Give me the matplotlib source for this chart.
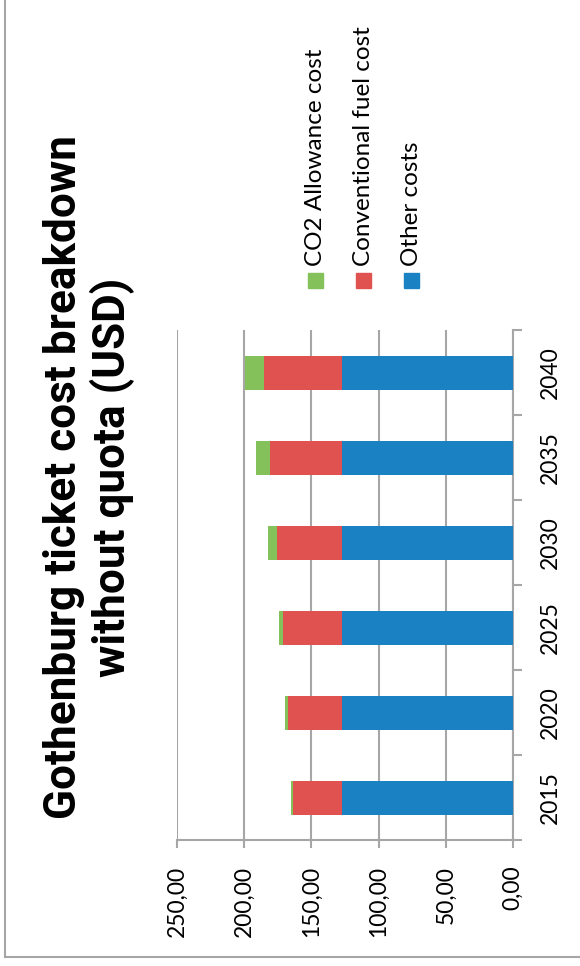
import numpy as np
import matplotlib
matplotlib.use('Agg')
import matplotlib.pyplot as plt
from matplotlib.lines import Line2D
from matplotlib.patches import Rectangle

# data (USD per ticket)
years = ['2015', '2020', '2025', '2030', '2035', '2040']
other_costs = [127.4, 127.4, 127.4, 127.4, 127.4, 127.4]
fuel_cost = [36.6, 40.2, 44.0, 48.0, 53.5, 58.2]
co2_cost = [1.0, 2.0, 2.7, 6.7, 10.4, 14.1]
series_names = ['CO2 Allowance cost', 'Conventional fuel cost', 'Other costs']
value_ticks = [0, 50, 100, 150, 200, 250]

green = '#84C15B'
red = '#E0524F'
blue = '#1A82C2'
grey = '#A6A6A6'
W, H = 580, 966

plt.rcParams['font.family'] = ['Lato', 'DejaVu Sans']

fig = plt.figure(figsize=(W / 100, H / 100), dpi=100)
ax = fig.add_axes([177 / W, 1 - 840 / H, (513 - 177) / W, (840 - 330) / H])

y = np.arange(len(years))
other = np.array(other_costs)
fuel = np.array(fuel_cost)
co2 = np.array(co2_cost)
ax.barh(y, other, height=0.4, color=blue, zorder=3)
ax.barh(y, fuel, left=other, height=0.4, color=red, zorder=3)
ax.barh(y, co2, left=other + fuel, height=0.4, color=green, zorder=3)

ax.set_xlim(250, 0)
ax.set_ylim(-0.5, len(years) - 0.5)
ax.set_xticks(value_ticks)
ax.set_xticklabels([f'{v:.2f}'.replace('.', ',') for v in value_ticks],
                   rotation=90, fontsize=16.5)
ax.grid(axis='x', color=grey, lw=1.5, zorder=0)

ax.yaxis.tick_right()
ax.set_yticks(y)
ax.set_yticklabels(years, rotation=90, fontsize=16.5, va='center')
ax.set_yticks(np.arange(-0.5, len(years), 1.0), minor=True)
ax.tick_params(axis='y', which='major', length=0, pad=19)
ax.tick_params(axis='y', which='minor', length=6.5, width=1.5, color=grey)
ax.tick_params(axis='x', length=6, width=1.5, color=grey, pad=12.5)

for s in ['left', 'top']:
    ax.spines[s].set_visible(False)
for s in ['right', 'bottom']:
    ax.spines[s].set_color(grey)
    ax.spines[s].set_linewidth(1.5)

# title (chart is rotated a quarter turn); size fitted to the reference length
title = fig.text(89 / W, 1 - 477 / H, 'Gothenburg ticket cost breakdown\nwithout quota (USD)',
                 rotation=90, ha='center', va='center', ma='center', fontsize=30,
                 fontweight='bold', linespacing=1.15, family=['Roboto', 'DejaVu Sans'])
r = fig.canvas.get_renderer()
h = title.get_window_extent(r).height
title.set_fontsize(30 * 683 / h)

# legend, rotated
leg_x = [315.5, 363.5, 411.5]
for name, col, lx in zip(series_names, [green, red, blue], leg_x):
    fig.add_artist(Rectangle(((lx - 7.5) / W, 1 - 288 / H), 15 / W, 15 / H,
                             transform=fig.transFigure, color=col))
    fig.text(lx / W, 1 - 266 / H, name, rotation=90, ha='center', va='bottom',
             fontsize=17.5)

# outer frame (left and bottom edges visible)
fig.add_artist(Line2D([4.5 / W, 4.5 / W], [1, 1 - 957 / H], color=grey, lw=1.5,
                      transform=fig.transFigure))
fig.add_artist(Line2D([4.5 / W, 1], [1 - 957 / H, 1 - 957 / H], color=grey, lw=1.5,
                      transform=fig.transFigure))

fig.savefig('out.png', dpi=100)
